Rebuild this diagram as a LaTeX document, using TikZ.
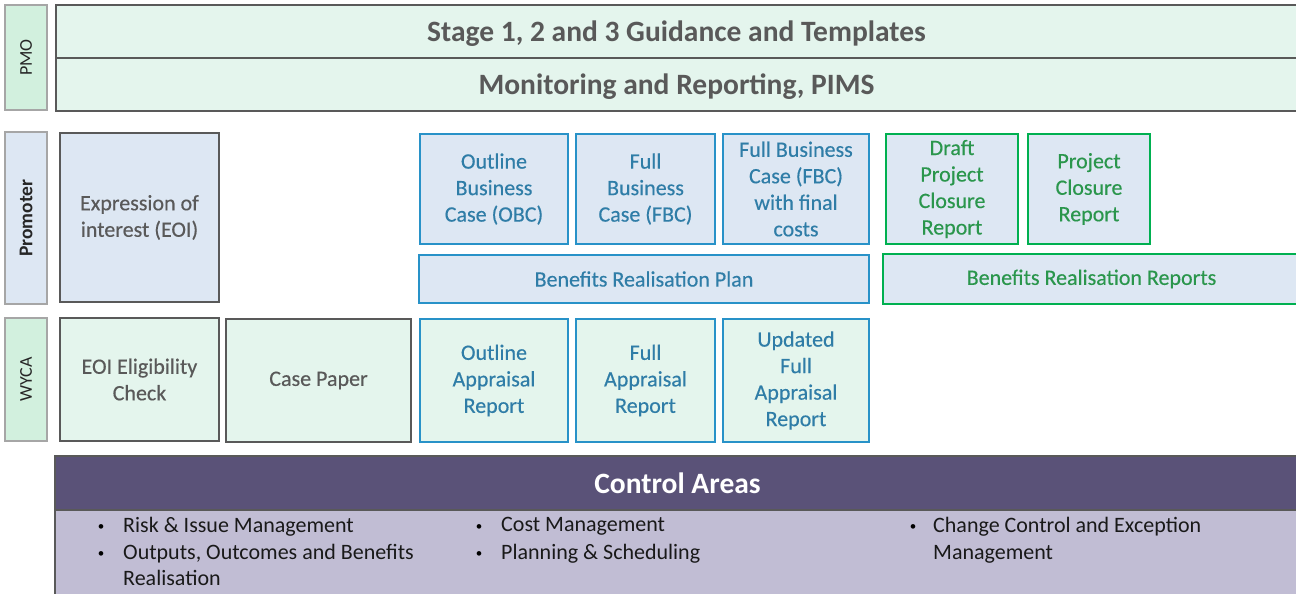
\documentclass[tikz,border=0pt]{standalone}
\usepackage{fontspec}
\setmainfont{Carlito}
\newfontfamily\boxfont{Carlito}[FakeBold=0.35]

\definecolor{darkline}{RGB}{89,89,89}
\definecolor{lightline}{RGB}{166,166,166}
\definecolor{mintfill}{RGB}{228,245,237}
\definecolor{mintlabel}{RGB}{210,240,222}
\definecolor{bluefill}{RGB}{221,231,243}
\definecolor{blueline}{RGB}{40,146,200}
\definecolor{bluetext}{RGB}{47,125,167}
\definecolor{greenline}{RGB}{0,176,80}
\definecolor{greentext}{RGB}{42,150,76}
\definecolor{purplehead}{RGB}{90,82,120}
\definecolor{purplebody}{RGB}{193,189,212}

\begin{document}
\begin{tikzpicture}[x=1pt, y=-1pt,
    lane/.style={draw=lightline, line width=1.5pt, rotate=90, inner sep=0pt,
        text=black!85, font=\fontsize{18}{20}\selectfont},
    pmorow/.style={draw=darkline, line width=2.5pt, fill=mintfill, inner sep=0pt,
        minimum width=1244pt, minimum height=53pt, text=darkline,
        text height=20pt, text depth=0pt,
        font=\bfseries\fontsize{29.5}{32}\selectfont},
    greybox/.style={draw=darkline, line width=2.5pt, inner sep=0pt, align=center,
        text=darkline, font=\boxfont\fontsize{22}{26.5}\selectfont},
    bluebox/.style={draw=blueline, line width=2.5pt, inner sep=0pt, align=center,
        text=bluetext, font=\boxfont\fontsize{22}{26.5}\selectfont},
    greenbox/.style={draw=greenline, line width=2.5pt, fill=bluefill, inner sep=0pt,
        align=center, text=greentext, font=\boxfont\fontsize{22}{26.5}\selectfont},
    bul/.style={anchor=center, inner sep=0pt, font=\fontsize{13}{16}\selectfont},
    item/.style={anchor=north west, inner sep=0pt, align=left, text=black!90,
        font=\fontsize{22}{26.5}\selectfont}]
    \useasboundingbox (0,0) rectangle (1296,594);

    % lanes
    \node[lane, fill=mintlabel, minimum width=105pt, minimum height=42pt] (pmo) at (26,57.5) {PMO};
    \node[lane, fill=bluefill, minimum width=172pt, minimum height=42pt, font=\bfseries\fontsize{19.5}{20}\selectfont] (prom) at (26,218) {Promoter};
    \node[lane, fill=mintlabel, minimum width=123pt, minimum height=42pt] (wyca) at (26,379.5) {WYCA};

    % PMO
    \node[pmorow] (guide) at (678,31.5) {\hspace*{-3pt}Stage 1, 2 and 3 Guidance and Templates};
    \node[pmorow] (pims) at (678,84.5) {\hspace*{-3pt}Monitoring and Reporting, PIMS};

    % promoter
    \node[greybox, fill=bluefill, minimum width=159pt, minimum height=169pt] (eoi) at (139.5,217.5) {Expression of\\interest (EOI)};
    \node[bluebox, fill=bluefill, minimum width=148pt, minimum height=110pt] (obc) at (494,189) {Outline\\Business\\Case (OBC)};
    \node[bluebox, fill=bluefill, minimum width=139pt, minimum height=110pt] (fbc) at (645.5,189) {Full\\Business\\Case (FBC)};
    \node[bluebox, fill=bluefill, minimum width=146pt, minimum height=110pt] (fbcf) at (796,189) {Full Business\\Case (FBC)\\with final\\costs};
    \node[bluebox, fill=bluefill, minimum width=450pt, minimum height=48pt] (brp) at (644,279) {Benefits Realisation Plan};
    \node[greenbox, minimum width=132pt, minimum height=110pt] (dpcr) at (952,189) {Draft\\Project\\Closure\\Report};
    \node[greenbox, minimum width=122pt, minimum height=110pt] (pcr) at (1089,189) {Project\\Closure\\Report};
    \node[greenbox, minimum width=417pt, minimum height=50pt] (brr) at (1091.5,279) {Benefits Realisation Reports};

    % WYCA
    \node[greybox, fill=mintfill, minimum width=159pt, minimum height=123pt] (check) at (139.5,379.5) {EOI Eligibility\\Check};
    \node[greybox, fill=mintfill, minimum width=185pt, minimum height=123pt] (paper) at (318.5,380.5) {Case Paper};
    \node[bluebox, fill=mintfill, minimum width=148pt, minimum height=123pt] (oar) at (494,380.5) {Outline\\Appraisal\\Report};
    \node[bluebox, fill=mintfill, minimum width=139pt, minimum height=123pt] (far) at (645.5,380.5) {Full\\Appraisal\\Report};
    \node[bluebox, fill=mintfill, minimum width=146pt, minimum height=123pt] (ufar) at (796,380.5) {Updated\\Full\\Appraisal\\Report};

    % control areas
    \node[fill=purplebody, draw=darkline, line width=1.5pt, minimum width=1250pt, minimum height=92pt, inner sep=0pt] (ctrl) at (680,556) {};
    \node[fill=purplehead, draw=darkline, line width=1.5pt, minimum width=1250pt, minimum height=54pt, inner sep=0pt,
        text=white, font=\bfseries\fontsize{29.5}{32}\selectfont] (ctrlhead) at (680,483) {\hspace*{-5pt}Control Areas};
    \node[bul] (b1) at (101,528) {•};
    \node[item] (i1) at (123,517.5) {Risk \& Issue Management};
    \node[bul] (b2) at (101,555) {•};
    \node[item] (i2) at (123,544) {Outputs, Outcomes and Benefits\\Realisation};
    \node[bul] (b3) at (479,528) {•};
    \node[item] (i3) at (501,517.5) {Cost Management};
    \node[bul] (b4) at (479,555) {•};
    \node[item] (i4) at (501,544) {Planning \& Scheduling};
    \node[bul] (b5) at (913,528) {•};
    \node[item] (i5) at (933,517.5) {Change Control and Exception\\Management};
\end{tikzpicture}
\end{document}
